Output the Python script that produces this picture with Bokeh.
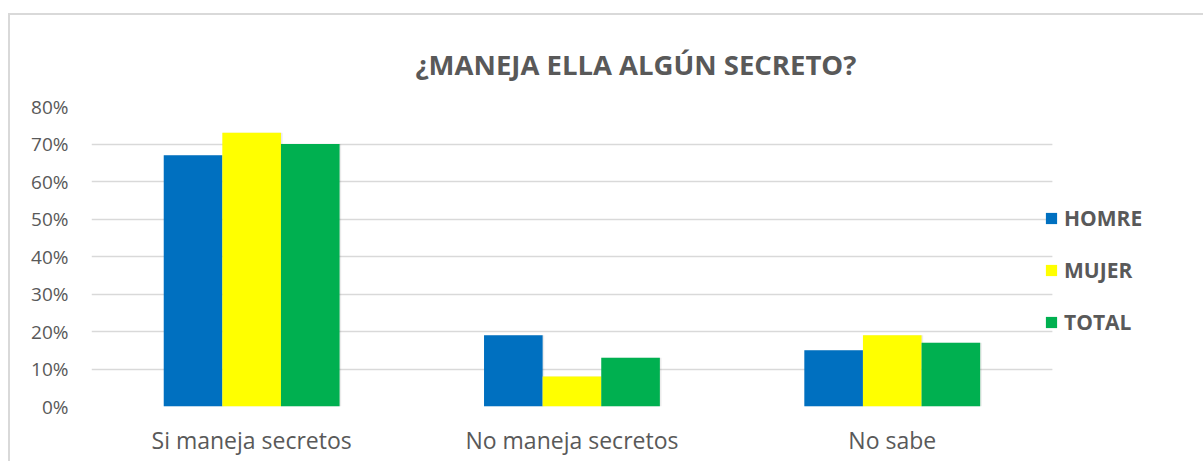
from bokeh.plotting import figure
from bokeh.models import (Range1d, ColumnDataSource, Legend, LegendItem, Title,
                          NumeralTickFormatter, FixedTicker, BoxAnnotation)
from bokeh.transform import dodge
from bokeh.embed import file_html
from bokeh.resources import INLINE

categories = ["Si maneja secretos", "No maneja secretos", "No sabe"]
series = ["HOMRE", "MUJER", "TOTAL"]
homre = [0.67, 0.19, 0.15]
mujer = [0.73, 0.08, 0.19]
total = [0.70, 0.13, 0.17]
colors = ["#0070C0", "#FFFF00", "#00B050"]
y_ticks = [0.0, 0.1, 0.2, 0.3, 0.4, 0.5, 0.6, 0.7, 0.8]

# numeric category positions (category centres) and room on the right for the legend
xpos = [i + 0.5 for i in range(len(categories))]
n_cat = len(categories)
legend_room = 0.478

src = ColumnDataSource(dict(x=xpos, HOMRE=homre, MUJER=mujer, TOTAL=total))

FONT = "Open Sans"
GRAY = "#595959"

p = figure(width=1195, height=448, x_range=Range1d(0, n_cat + legend_room),
           y_range=Range1d(0, 0.8), output_backend="svg", toolbar_location=None,
           min_border_left=81, min_border_right=0, min_border_top=91, min_border_bottom=57)
p.styles = {"border-left": "2px solid #d9d9d9", "border-top": "2px solid #d9d9d9",
            "margin-left": "8px", "margin-top": "13px"}
p.outline_line_color = None
p.background_fill_color = "white"
p.border_fill_color = "white"

bw = 0.183
offsets = [-bw, 0.0, bw]
renderers = []
for s, c, off in zip(series, colors, offsets):
    p.vbar(x=dodge("x", off + 0.003), top=s, width=bw + 0.004, source=src,
           fill_color="black", fill_alpha=0.08, line_color=None)
for s, c, off in zip(series, colors, offsets):
    r = p.vbar(x=dodge("x", off), top=s, width=bw, source=src,
               fill_color=c, line_color=None)
    renderers.append(r)

p.yaxis.ticker = FixedTicker(ticks=y_ticks)
p.yaxis.formatter = NumeralTickFormatter(format="0%")
p.yaxis.axis_line_color = None
p.yaxis.major_tick_line_color = None
p.yaxis.minor_tick_line_color = None
p.yaxis.major_label_standoff = 17
p.yaxis.major_label_text_font = FONT
p.yaxis.major_label_text_font_size = "19px"
p.yaxis.major_label_text_color = GRAY

p.xaxis.ticker = FixedTicker(ticks=xpos)
p.xaxis.major_label_overrides = {x: c for x, c in zip(xpos, categories)}
p.xaxis.axis_line_color = None
p.xaxis.major_tick_line_color = None
p.xaxis.minor_tick_line_color = None
p.xaxis.major_label_standoff = 11
p.xaxis.major_label_text_font = FONT
p.xaxis.major_label_text_font_size = "23px"
p.xaxis.major_label_text_color = GRAY

p.xgrid.grid_line_color = None
p.ygrid.grid_line_color = "#d9d9d9"
p.ygrid.grid_line_width = 1.5

# gridlines stop where the category area ends (legend sits to the right)
p.add_layout(BoxAnnotation(left=n_cat, fill_color="white", fill_alpha=1.0, line_color=None))

t = Title(text="¿MANEJA ELLA ALGÚN SECRETO?", align="left", offset=324,
          text_font=FONT, text_font_size="27.5px", text_font_style="bold",
          text_color=GRAY, standoff=48)
p.add_layout(t, "above")

legend = Legend(items=[LegendItem(label=s, renderers=[r]) for s, r in zip(series, renderers)],
                location=(953, 70), orientation="vertical", padding=0, margin=0,
                border_line_color=None, background_fill_alpha=0,
                glyph_width=14, glyph_height=14, label_standoff=6, spacing=24,
                label_text_font=FONT, label_text_font_size="21px", label_text_font_style="bold",
                label_text_color=GRAY)
p.add_layout(legend, "center")

open("out.html", "w").write(file_html(p, INLINE))
